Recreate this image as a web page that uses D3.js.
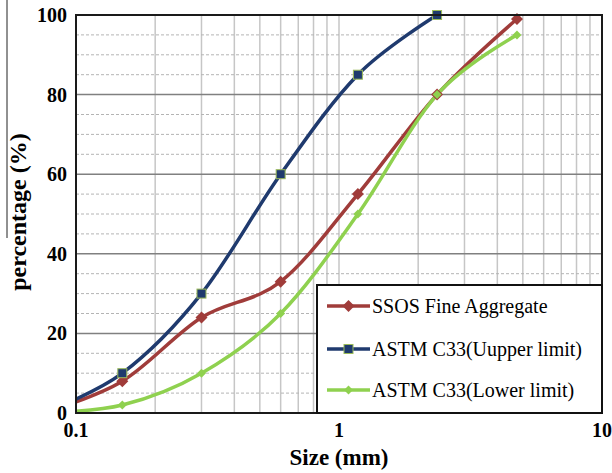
<!DOCTYPE html>
<html>
<head>
<meta charset="utf-8">
<script src="https://cdn.jsdelivr.net/npm/d3@7"></script>
<style>
  body { margin: 0; background: #fff; }
  svg { display: block; }
  text { font-family: "Liberation Serif", "Times New Roman", serif; }
</style>
</head>
<body>
<script>
// sieve sizes (mm); the 0.075 point sits left of the axis and is clipped
const sizes = [0.075, 0.15, 0.3, 0.6, 1.18, 2.36, 4.75];
const ssos = [0, 8, 24, 33, 55, 80, 99];
const upper = [0, 10, 30, 60, 85, 100, null];
const lower = [0, 2, 10, 25, 50, 80, 95];

const seriesNames = ["SSOS Fine Aggregate", "ASTM C33(Uupper limit)", "ASTM C33(Lower limit)"];
const xTicks = [0.1, 1, 10];
const yTicks = [0, 20, 40, 60, 80, 100];

const width = 612, height = 473;
const margin = {left: 76, right: 10, top: 15, bottom: 60};
const plot_w = width - margin.left - margin.right;
const plot_h = height - margin.top - margin.bottom;

const red = "#a03c3a", navy = "#1f3a6e", green = "#8fd14f";

const svg = d3.select("body").append("svg")
    .attr("width", width)
    .attr("height", height);

const x = d3.scaleLog().domain([0.1, 10]).range([margin.left, margin.left + plot_w]);
const y = d3.scaleLinear().domain([0, 100]).range([margin.top + plot_h, margin.top]);

// stray crop line on the far left of the original image
svg.append("line")
    .attr("x1", 7).attr("x2", 7).attr("y1", 0).attr("y2", 238)
    .attr("stroke", "#222").attr("stroke-width", 1);

const grid = svg.append("g");

// vertical log gridlines (2..9 of each decade, plus 1)
const vLines = [];
for (let d = 0.1; d < 10; d *= 10) {
    for (let k = 1; k <= 9; k++) {
        const v = +(d * k).toPrecision(3);
        if (v > 0.1 && v < 10) vLines.push(v);
    }
}
grid.selectAll(".vgrid").data(vLines).enter().append("line")
    .attr("x1", d => x(d)).attr("x2", d => x(d))
    .attr("y1", y(0)).attr("y2", y(100))
    .attr("stroke", "#c6c6c6").attr("stroke-width", 1.5);

// minor horizontal dashed lines every 5
const minorY = d3.range(5, 100, 5).filter(v => v % 20 !== 0);
grid.selectAll(".hminor").data(minorY).enter().append("line")
    .attr("x1", x(0.1)).attr("x2", x(10))
    .attr("y1", d => y(d)).attr("y2", d => y(d))
    .attr("stroke", "#b4b4b4").attr("stroke-width", 1)
    .attr("stroke-dasharray", "3,2");

// major horizontal lines every 20
grid.selectAll(".hmajor").data(yTicks.slice(1, -1)).enter().append("line")
    .attr("x1", x(0.1)).attr("x2", x(10))
    .attr("y1", d => y(d)).attr("y2", d => y(d))
    .attr("stroke", "#808080").attr("stroke-width", 1.5);

svg.append("clipPath").attr("id", "plotclip")
    .append("rect")
    .attr("x", margin.left).attr("y", margin.top - 2)
    .attr("width", plot_w).attr("height", plot_h + 2);

const series = [
    {name: seriesNames[0], values: ssos, color: red, marker: "diamond", size: 12},
    {name: seriesNames[1], values: upper, color: navy, marker: "square", size: 9},
    {name: seriesNames[2], values: lower, color: green, marker: "diamond", size: 9}
];

const line = d3.line()
    .defined(d => d[1] !== null)
    .x(d => x(d[0]))
    .y(d => y(d[1]))
    .curve(d3.curveCatmullRom.alpha(0));

function drawMarker(g, s, cx, cy) {
    if (s.marker === "square") {
        g.append("rect")
            .attr("x", cx - s.size / 2).attr("y", cy - s.size / 2)
            .attr("width", s.size).attr("height", s.size)
            .attr("fill", s.color)
            .attr("stroke", "#9bbb59").attr("stroke-width", 1);
    } else {
        const r = s.size / 2;
        g.append("path")
            .attr("d", `M${cx},${cy - r}L${cx + r},${cy}L${cx},${cy + r}L${cx - r},${cy}Z`)
            .attr("fill", s.color);
    }
}

series.forEach(s => {
    const pts = sizes.map((v, i) => [v, s.values[i]]).filter(p => p[1] !== null);
    svg.append("path")
        .datum(pts)
        .attr("d", line)
        .attr("fill", "none")
        .attr("stroke", s.color)
        .attr("stroke-width", 3.5)
        .attr("clip-path", "url(#plotclip)");
});

series.forEach(s => {
    const g = svg.append("g");
    sizes.forEach((v, i) => {
        const val = s.values[i];
        if (val === null || v < 0.1) return;
        drawMarker(g, s, x(v), y(val));
    });
});

// plot frame
svg.append("rect")
    .attr("x", margin.left).attr("y", margin.top)
    .attr("width", plot_w).attr("height", plot_h)
    .attr("fill", "none").attr("stroke", "#1a1a1a").attr("stroke-width", 2);

// tick labels
svg.selectAll(".ytick").data(yTicks).enter().append("text")
    .attr("x", margin.left - 9)
    .attr("y", d => y(d))
    .attr("dy", "0.35em")
    .attr("text-anchor", "end")
    .attr("font-weight", "bold")
    .attr("font-size", 20)
    .text(d => d);

svg.selectAll(".xtick").data(xTicks).enter().append("text")
    .attr("x", d => x(d))
    .attr("y", 437)
    .attr("text-anchor", "middle")
    .attr("font-weight", "bold")
    .attr("font-size", 20)
    .text(d => d);

// axis titles
svg.append("text")
    .attr("x", x(1))
    .attr("y", 465)
    .attr("text-anchor", "middle")
    .attr("font-weight", "bold")
    .attr("font-size", 23)
    .text("Size (mm)");

svg.append("text")
    .attr("transform", "translate(26,212) rotate(-90)")
    .attr("text-anchor", "middle")
    .attr("font-weight", "bold")
    .attr("font-size", 24)
    .text("percentage (%)");

// legend
const lg = svg.append("g");
lg.append("rect")
    .attr("x", 317).attr("y", 285)
    .attr("width", 285).attr("height", 128)
    .attr("fill", "#fff").attr("stroke", "#111").attr("stroke-width", 2);

const rowY = [306, 349, 390];
series.forEach((s, i) => {
    lg.append("line")
        .attr("x1", 327).attr("x2", 370)
        .attr("y1", rowY[i]).attr("y2", rowY[i])
        .attr("stroke", s.color).attr("stroke-width", 3.5);
    drawMarker(lg, s, 348.5, rowY[i]);
    lg.append("text")
        .attr("x", 372)
        .attr("y", rowY[i] + 7)
        .attr("font-size", 20)
        .text(s.name);
});
</script>
</body>
</html>
